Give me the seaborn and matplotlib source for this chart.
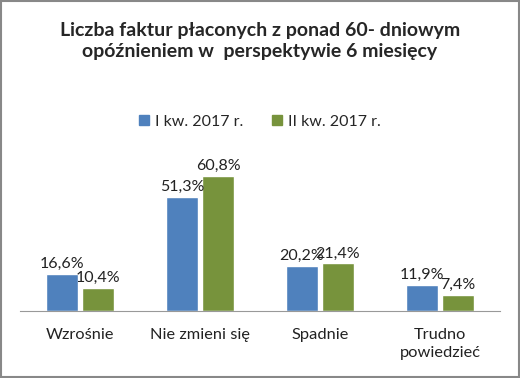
import seaborn as sns
import matplotlib.pyplot as plt
import pandas as pd

categories = ["Wzrośnie", "Nie zmieni się", "Spadnie", "Trudno\npowiedzieć"]
series = ["I kw. 2017 r.", "II kw. 2017 r."]
q1_values = [16.6, 51.3, 20.2, 11.9]
q2_values = [10.4, 60.8, 21.4, 7.4]

df = pd.DataFrame({
    "kategoria": categories * 2,
    "okres": [series[0]] * 4 + [series[1]] * 4,
    "wartosc": q1_values + q2_values,
})

sns.set_style("white")
plt.rcParams["font.family"] = ["Lato", "DejaVu Sans"]

fig = plt.figure(figsize=(5.2, 3.78), dpi=100)
ax = fig.add_axes([20 / 520, 1 - 311 / 378, 480 / 520, 160 / 378])

sns.barplot(data=df, x="kategoria", y="wartosc", hue="okres",
            palette=["#4F81BD", "#77933C"], width=0.6, gap=0.12,
            saturation=1, legend=False, ax=ax)

for cont in ax.containers:
    ax.bar_label(cont, labels=[f"{v:.1f}%".replace(".", ",") for v in cont.datavalues],
                 padding=2, fontsize=11.5, color="#222222")

ax.set_ylim(0, 72)
ax.set_xlim(-0.5, 3.5)
ax.set_xlabel("")
ax.set_ylabel("")
ax.set_yticks([])
for s in ["top", "right", "left"]:
    ax.spines[s].set_visible(False)
ax.spines["bottom"].set_color("#999999")
ax.tick_params(axis="x", length=0, labelsize=11.8, pad=12, colors="#222222")
for lbl in ax.get_xticklabels():
    lbl.set_linespacing(1.35)

fig.text(0.5, 1 - 41 / 378, "Liczba faktur płaconych z ponad 60- dniowym\nopóźnieniem w  perspektywie 6 miesięcy",
         ha="center", va="center", fontsize=14, fontweight="bold", linespacing=1.3)

handles = [plt.Rectangle((0, 0), 1, 1, color=c) for c in ["#4F81BD", "#77933C"]]
fig.legend(handles, series, loc="center", bbox_to_anchor=(0.5, 1 - 122 / 378),
           ncol=2, frameon=False, fontsize=11.5, handlelength=0.6, handleheight=0.6,
           handletextpad=0.4, columnspacing=1.8)

fig.patches.append(plt.Rectangle((0.002, 0.003), 0.996, 0.994, transform=fig.transFigure,
                                 fill=False, edgecolor="#888888", linewidth=1.5))

fig.savefig("out.png", dpi=100)
